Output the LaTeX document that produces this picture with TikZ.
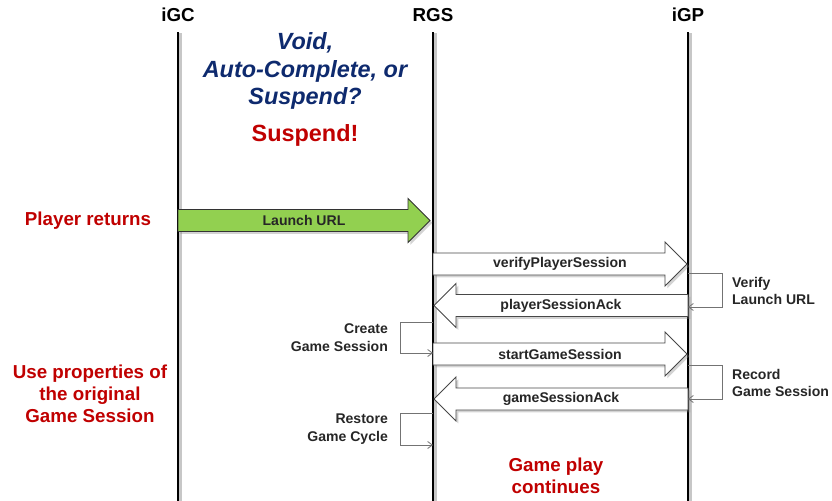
\documentclass[tikz,border=0pt]{standalone}
\usepackage{fontspec}
\setmainfont{Liberation Sans}
\usetikzlibrary{calc,shadows,arrows.meta}
\definecolor{notered}{HTML}{C00000}
\definecolor{askblue}{HTML}{0E2A6E}
\definecolor{launchgreen}{HTML}{92D050}

% block arrow: style, from, to, head offset (-22 right, 22 left), label
\newcommand{\blockarrow}[5]{%
  \draw[#1] ($(#2)+(0,11)$) -- ($(#3)+(#4,11)$) -- ($(#3)+(#4,22)$) -- (#3)
    -- ($(#3)+(#4,-22)$) -- ($(#3)+(#4,-11)$) -- ($(#2)+(0,-11)$) -- cycle;
  \node[msglabel] at ($(#2)!0.5!(#3)$) {#5};
}

\begin{document}
\begin{tikzpicture}[x=0.03cm,y=-0.03cm,
  every node/.style={font=\bfseries},
  head/.style={font=\fontsize{16}{19}\selectfont\bfseries},
  lifeline/.style={line width=1.2pt,
    preaction={draw=black!22, line width=2.4pt, transform canvas={xshift=2.2pt,yshift=-1pt}}},
  msgbox/.style={draw=black!72, fill=white, line width=0.8pt,
    drop shadow={shadow xshift=2pt, shadow yshift=-2pt, opacity=0.35}},
  launchbox/.style={msgbox, draw=black!80, fill=launchgreen},
  msglabel/.style={font=\fontsize{12}{14}\selectfont\bfseries, text=black!85},
  loop/.style={draw=black!55, line width=0.7pt, -{Straight Barb[length=4pt,width=6pt]}},
  looplabel/.style={font=\fontsize{12}{15.3}\selectfont\bfseries, text=black!85},
  redtext/.style={font=\fontsize{16}{18.7}\selectfont\bfseries, text=notered, align=center},
]
\useasboundingbox (0,0) rectangle (832,501);

% lifelines
\node[head] (igc) at (178,15) {iGC};
\node[head] (rgs) at (433,15) {RGS};
\node[head] (igp) at (688,15) {iGP};
\coordinate (igc-top) at (178,32);
\coordinate (rgs-top) at (433,32);
\coordinate (igp-top) at (688,32);
\coordinate (igc-end) at (178,501);
\coordinate (rgs-end) at (433,501);
\coordinate (igp-end) at (688,501);
\draw[lifeline] (igc-top) -- (igc-end);
\draw[lifeline] (rgs-top) -- (rgs-end);
\draw[lifeline] (igp-top) -- (igp-end);

% question and answer
\node[font=\fontsize{20}{23.4}\selectfont\bfseries\itshape, text=askblue, align=center]
  (ask) at (305,71) {Void,\\Auto-Complete, or\\Suspend?};
\node[font=\fontsize{20}{24}\selectfont\bfseries, text=notered] (answer) at (305,135) {Suspend!};

% messages
\coordinate (launch-s) at (178,220.5);
\coordinate (launch-e) at (430,220.5);
\blockarrow{launchbox}{launch-s}{launch-e}{-22}{Launch URL}
\coordinate (verify-s) at (433,264);
\coordinate (verify-e) at (687,264);
\blockarrow{msgbox}{verify-s}{verify-e}{-22}{verifyPlayerSession}
\coordinate (pack-s) at (688,305.5);
\coordinate (pack-e) at (434,305.5);
\blockarrow{msgbox}{pack-s}{pack-e}{22}{playerSessionAck}
\coordinate (start-s) at (433,354);
\coordinate (start-e) at (687,354);
\blockarrow{msgbox}{start-s}{start-e}{-22}{startGameSession}
\coordinate (gack-s) at (688,399);
\coordinate (gack-e) at (434,399);
\blockarrow{msgbox}{gack-s}{gack-e}{22}{gameSessionAck}

% self loops
\coordinate (verify-a) at (688,273);
\coordinate (verify-b) at (688,307);
\draw[loop] (verify-a) -- ++(34,0) |- (verify-b);
\node[looplabel, anchor=west, align=left] (verifytxt) at (728,291) {Verify\\Launch URL};
\coordinate (create-a) at (433,322);
\coordinate (create-b) at (433,353);
\draw[loop] (create-a) -- ++(-33,0) |- (create-b);
\node[looplabel, anchor=east, align=right] (createtxt) at (392,338) {Create\\Game Session};
\coordinate (record-a) at (688,365);
\coordinate (record-b) at (688,399);
\draw[loop] (record-a) -- ++(34,0) |- (record-b);
\node[looplabel, anchor=west, align=left] (recordtxt) at (728,383) {Record\\Game Session};
\coordinate (restore-a) at (433,413);
\coordinate (restore-b) at (433,445);
\draw[loop] (restore-a) -- ++(-33,0) |- (restore-b);
\node[looplabel, anchor=east, align=right] (restoretxt) at (392,429) {Restore\\Game Cycle};

% notes
\node[redtext] (returns) at (88,221) {Player returns};
\node[redtext] (props) at (90,394) {Use properties of\\the original\\Game Session};
\node[redtext] (continues) at (556,476) {Game play\\continues};
\end{tikzpicture}
\end{document}
